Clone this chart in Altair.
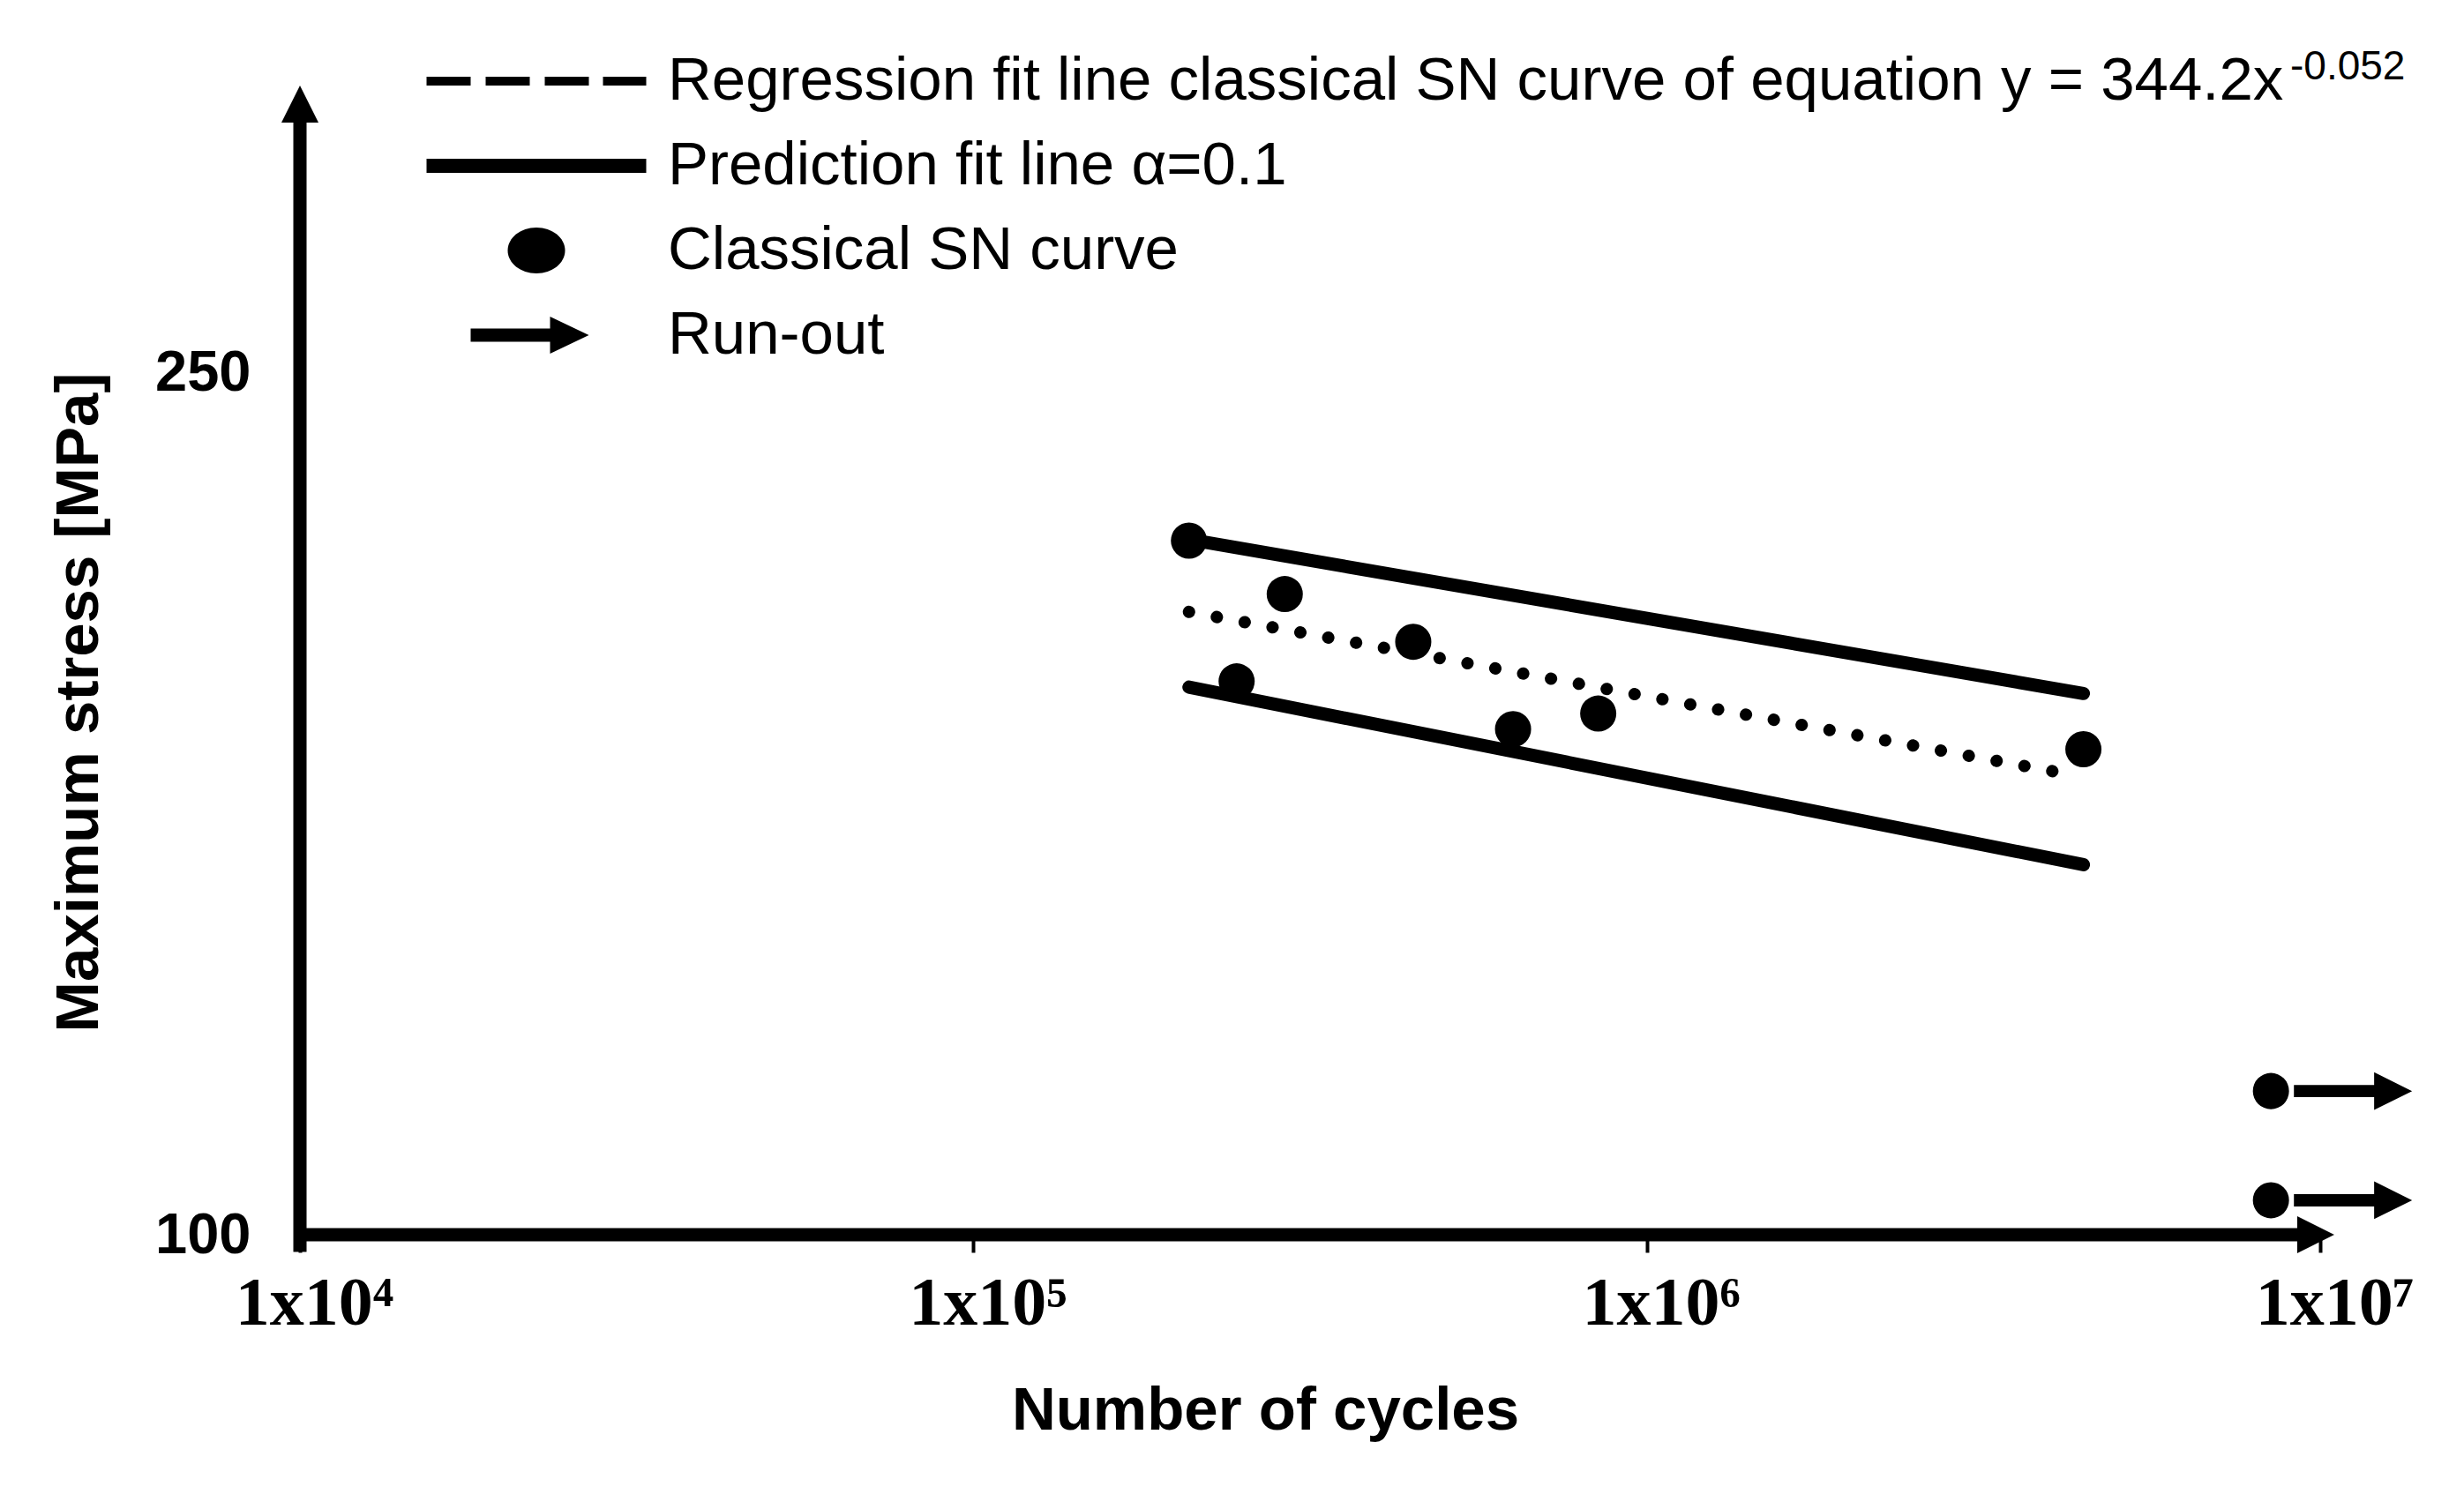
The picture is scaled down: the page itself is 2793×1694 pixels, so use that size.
import altair as alt
import pandas as pd

# ---------------- data ----------------
pt_cycles = [2.09e5, 2.90e5, 2.46e5, 4.50e5, 6.33e5, 8.47e5, 4.45e6]
pt_stress = [220.8, 211.5, 196.3, 203.2, 188.0, 190.7, 184.5]

runout_cycles = [8.45e6, 8.45e6]
runout_stress = [125.0, 106.0]

reg_cycles = [2.09e5, 4.30e6]
reg_stress = [208.4, 180.0]

upper_cycles = [2.09e5, 4.45e6]
upper_stress = [221.0, 194.2]
lower_cycles = [2.09e5, 4.45e6]
lower_stress = [195.3, 164.4]

x_domain = [1e4, 1e7]
y_domain = [100, 300]
x_ticks = [1e4, 1e5, 1e6, 1e7]
y_ticks = [100, 250]

legend_labels = [
    "Regression fit line classical SN curve of equation y = 344.2x",
    "Prediction fit line \u03b1=0.1",
    "Classical SN curve",
    "Run-out",
]
exponent_text = "-0.052"

# ---------------- symbol paths (styles) ----------------
LEG_DASH = ("M-0.996,-0.04H-0.596V0.04H-0.996Z M-0.46,-0.04H-0.06V0.04H-0.46Z "
            "M0.076,-0.04H0.476V0.04H0.076Z M0.604,-0.04H0.996V0.04H0.604Z")
LEG_SOLID = "M-0.996,-0.064H0.996V0.064H-0.996Z"
LEG_DOT = "M-0.26,0A0.26,0.208 0 1,0 0.26,0A0.26,0.208 0 1,0 -0.26,0Z"
LEG_ARROW = "M-0.596,-0.06H0.124V-0.168L0.476,0L0.124,0.168V0.06H-0.596Z"
RUN_ARROW = "M1.24,-0.333H5.57V-1.02L7.62,0L5.57,1.02V0.333H1.24Z"
HEAD_UP = "M0,0L1,2L-1,2Z"
HEAD_RIGHT = "M0.76,0L-1.24,1L-1.24,-1Z"

BLACK = "#000000"

xscale = alt.Scale(type="log", domain=x_domain)
yscale = alt.Scale(type="linear", domain=y_domain)

x_axis = alt.Axis(
    values=x_ticks,
    labelExpr="'1x10' + ['\u2074','\u2075','\u2076','\u2077'][round(log(datum.value)/LN10) - 4]",
    labelFont="Liberation Serif", labelFontWeight="bold", labelFontSize=78,
    labelColor=BLACK, labelPadding=19, labelOffset=16, labelFlush=False,
    labelOverlap=False,
    tickSize=20, tickWidth=4, tickColor=BLACK, domain=False, grid=False,
    title="Number of cycles", titleFont="Liberation Sans", titleFontWeight="bold",
    titleFontSize=69, titleColor=BLACK, titleX=1094, titleY=220,
    titleBaseline="alphabetic", titleAlign="center",
)
y_axis = alt.Axis(
    values=y_ticks, format="d",
    labelFont="Liberation Sans", labelFontWeight="bold", labelFontSize=65,
    labelColor=BLACK, labelPadding=56, ticks=False, tickSize=0,
    domain=False, grid=False, labelOverlap=False,
    title="Maximum stress [MPa]", titleFont="Liberation Sans", titleFontWeight="bold",
    titleFontSize=69, titleColor=BLACK, titleAngle=270, titleX=-230, titleY=699,
    titleBaseline="alphabetic", titleAlign="center",
)


def X(field="N"):
    return alt.X(f"{field}:Q", scale=xscale, axis=x_axis)


def Y(field="S"):
    return alt.Y(f"{field}:Q", scale=yscale, axis=y_axis)


# ---------------- frames ----------------
pts = pd.DataFrame({"N": pt_cycles, "S": pt_stress})
runs = pd.DataFrame({"N": runout_cycles, "S": runout_stress})
reg = pd.DataFrame({"N": reg_cycles, "S": reg_stress})
pred = pd.DataFrame({
    "N": upper_cycles + lower_cycles,
    "S": upper_stress + lower_stress,
    "bound": ["upper"] * len(upper_cycles) + ["lower"] * len(lower_cycles),
})
yline = pd.DataFrame({"N": [x_domain[0]], "S": [97.0], "S2": [296.0]})
xline = pd.DataFrame({"N": [x_domain[0]], "N2": [x_domain[1]], "S": [y_domain[0]]})
head_up = pd.DataFrame({"N": [x_domain[0]], "S": [y_domain[1]]})
head_right = pd.DataFrame({"N": [x_domain[1]], "S": [y_domain[0]]})
leg = pd.DataFrame({"series": legend_labels})
expo = pd.DataFrame({"t": [exponent_text]})

# ---------------- layers ----------------
axis_y_line = alt.Chart(yline).mark_rule(color=BLACK, strokeWidth=15, strokeCap="butt").encode(
    x=X(), y=Y(), y2="S2:Q")
axis_x_line = alt.Chart(xline).mark_rule(color=BLACK, strokeWidth=15, strokeCap="butt").encode(
    x=X(), x2="N2:Q", y=Y())
arrow_up = alt.Chart(head_up).mark_point(shape=HEAD_UP, filled=True, color=BLACK, opacity=1,
                                         size=1764, strokeWidth=0).encode(x=X(), y=Y())
arrow_right = alt.Chart(head_right).mark_point(shape=HEAD_RIGHT, filled=True, color=BLACK, opacity=1,
                                               size=1764, strokeWidth=0).encode(x=X(), y=Y())

reg_line = alt.Chart(reg).mark_line(color=BLACK, strokeWidth=14, strokeCap="round",
                                    strokeDash=[0.1, 32]).encode(x=X(), y=Y())
pred_lines = alt.Chart(pred).mark_line(color=BLACK, strokeWidth=15, strokeCap="round").encode(
    x=X(), y=Y(), detail="bound:N")
points = alt.Chart(pts).mark_point(shape="circle", filled=True, color=BLACK, opacity=1,
                                   size=1681, strokeWidth=0).encode(x=X(), y=Y())
run_pts = alt.Chart(runs).mark_point(shape="circle", filled=True, color=BLACK, opacity=1,
                                     size=1681, strokeWidth=0).encode(x=X(), y=Y())
run_arrows = alt.Chart(runs).mark_point(shape=RUN_ARROW, filled=True, color=BLACK, opacity=1,
                                        size=1764, strokeWidth=0).encode(x=X(), y=Y())

legend_layer = alt.Chart(leg).mark_point(filled=True, color=BLACK, opacity=1).encode(
    shape=alt.Shape(
        "series:N",
        scale=alt.Scale(domain=legend_labels, range=[LEG_DASH, LEG_SOLID, LEG_DOT, LEG_ARROW]),
        legend=alt.Legend(
            orient="none", legendX=143, legendY=-38, direction="vertical", columns=1,
            title=None, padding=0,
            labelFont="Liberation Sans", labelFontSize=69, labelColor=BLACK,
            labelLimit=3000, labelOffset=24,
            symbolSize=62500, symbolStrokeWidth=0, symbolFillColor=BLACK,
            symbolStrokeColor=BLACK, symbolOpacity=1,
            clipHeight=66, rowPadding=27,
        ),
    )
).transform_filter("false")

exponent = alt.Chart(expo).mark_text(
    font="Liberation Sans", fontSize=46, color=BLACK, align="left", baseline="alphabetic"
).encode(text="t:N", x=alt.value(2256), y=alt.value(-7))

chart = alt.layer(
    axis_y_line, axis_x_line, arrow_up, arrow_right,
    pred_lines, reg_line, points, run_pts, run_arrows, legend_layer, exponent,
).properties(
    width=2290, height=1303,
    autosize=alt.AutoSizeParams(type="none"),
    padding={"left": 332, "top": 89, "right": 150, "bottom": 280},
    background="white",
).configure_view(stroke=None)

chart.save("out.html", embed_options={"renderer": "svg", "actions": False})
